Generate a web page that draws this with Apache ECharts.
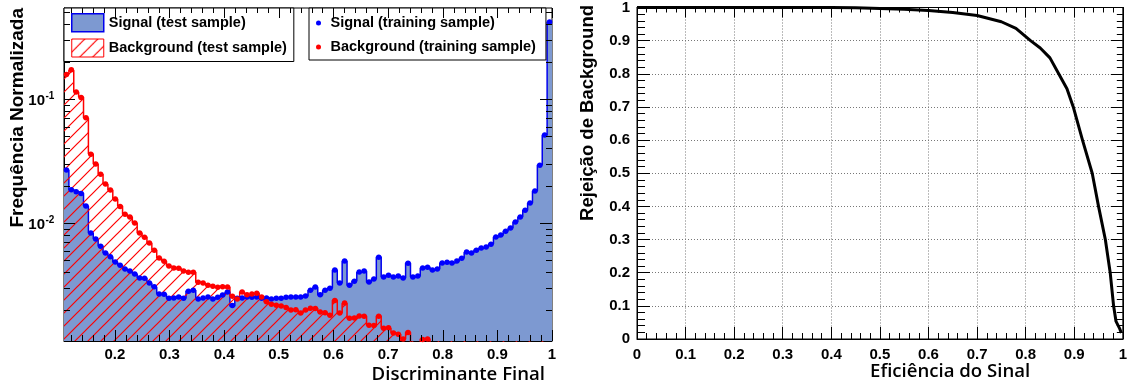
<!DOCTYPE html>
<html>
<head>
<meta charset="utf-8">
<script src="https://cdn.jsdelivr.net/npm/echarts@6/dist/echarts.min.js"></script>
<style>
  html, body { margin: 0; padding: 0; background: #fff; }
  #chart { width: 1130px; height: 385px; }
</style>
</head>
<body>
<div id="chart"></div>
<script>
// Discriminant output: 100 equal-width bins between these edges
const discMin = 0.107;
const discMax = 1.0;

// Normalised frequency per bin, test sample
const signalTest = [
  0.0268, 0.0185, 0.0179, 0.0174, 0.0137, 0.00831, 0.00743, 0.00652, 0.00573, 0.00535,
  0.00485, 0.00458, 0.00426, 0.00410, 0.00388, 0.00360, 0.00360, 0.00328, 0.00305, 0.00268,
  0.00268, 0.00248, 0.00248, 0.00254, 0.00248, 0.00283, 0.00288, 0.00244, 0.00248, 0.00253,
  0.00244, 0.00253, 0.00263, 0.00278, 0.00214, 0.00248, 0.00248, 0.00253, 0.00253, 0.00253,
  0.00248, 0.00248, 0.00244, 0.00248, 0.00248, 0.00253, 0.00253, 0.00253, 0.00253, 0.00258,
  0.00288, 0.00305, 0.00263, 0.00288, 0.00299, 0.00418, 0.00328, 0.00494, 0.00316, 0.00341,
  0.00402, 0.00410, 0.00334, 0.00354, 0.00532, 0.00367, 0.00381, 0.00367, 0.00374, 0.00360,
  0.00476, 0.00367, 0.00374, 0.00434, 0.00442, 0.00418, 0.00426, 0.00476, 0.00485, 0.00476,
  0.00494, 0.00522, 0.00583, 0.00573, 0.00606, 0.00629, 0.00641, 0.00677, 0.00771, 0.00800,
  0.00862, 0.00911, 0.0102, 0.0112, 0.0127, 0.0145, 0.0181, 0.0294, 0.0513, 0.418
];
const backgroundTest = [
  0.159, 0.171, 0.114, 0.104, 0.0703, 0.0360, 0.0299, 0.0248, 0.0206, 0.0185,
  0.0156, 0.0137, 0.0118, 0.0112, 0.0100, 0.00831, 0.00771, 0.00690, 0.00606, 0.00522,
  0.00494, 0.00450, 0.00434, 0.00434, 0.00410, 0.00402, 0.00402, 0.00334, 0.00328, 0.00316,
  0.00310, 0.00305, 0.00305, 0.00305, 0.00258, 0.00244, 0.00278, 0.00263, 0.00268, 0.00273,
  0.00253, 0.00231, 0.00222, 0.00218, 0.00214, 0.00210, 0.00199, 0.00199, 0.00188, 0.00199,
  0.00206, 0.00206, 0.00192, 0.00188, 0.00181, 0.00239, 0.00188, 0.00226, 0.00171, 0.00171,
  0.00178, 0.00178, 0.00150, 0.00148, 0.00178, 0.00142, 0.00142, 0.00130, 0.00127, 0.00116,
  0.00132, 0.00095, 0.00090, 0.00116, 0.00116, 0.00088, 0.00080, 0.00074, 0.00066, 0.00060,
  0.00052, 0.00047, 0.00041, 0.00036, 0.00031, 0.00027, 0.00023, 0.00020, 0.00017, 0.00014,
  0.00012, 0.00010, 0.00008, 0.00007, 0.00006, 0.00005, 0.00004, 0.00003, 0.00002, 0.00001
];

// Normalised frequency per bin, training sample
const signalTrain = [
  0.0268, 0.0186, 0.0179, 0.0173, 0.0137, 0.00830, 0.00745, 0.00650, 0.00574, 0.00535,
  0.00486, 0.00457, 0.00427, 0.00410, 0.00389, 0.00360, 0.00359, 0.00328, 0.00306, 0.00268,
  0.00267, 0.00248, 0.00249, 0.00254, 0.00248, 0.00282, 0.00288, 0.00244, 0.00249, 0.00253,
  0.00244, 0.00252, 0.00263, 0.00278, 0.00216, 0.00248, 0.00249, 0.00253, 0.00252, 0.00253,
  0.00248, 0.00249, 0.00244, 0.00248, 0.00248, 0.00252, 0.00253, 0.00254, 0.00253, 0.00258,
  0.00287, 0.00305, 0.00264, 0.00288, 0.00298, 0.00418, 0.00329, 0.00494, 0.00316, 0.00340,
  0.00403, 0.00410, 0.00335, 0.00354, 0.00530, 0.00368, 0.00380, 0.00367, 0.00374, 0.00361,
  0.00475, 0.00367, 0.00375, 0.00434, 0.00441, 0.00418, 0.00427, 0.00476, 0.00484, 0.00477,
  0.00494, 0.00521, 0.00584, 0.00573, 0.00605, 0.00630, 0.00641, 0.00676, 0.00772, 0.00800,
  0.00861, 0.00912, 0.0102, 0.0112, 0.0127, 0.0145, 0.0181, 0.0293, 0.0514, 0.417
];
const backgroundTrain = [
  0.158, 0.172, 0.114, 0.103, 0.0705, 0.0359, 0.0300, 0.0247, 0.0207, 0.0185,
  0.0156, 0.0136, 0.0118, 0.0112, 0.0100, 0.00832, 0.00770, 0.00691, 0.00605, 0.00523,
  0.00493, 0.00451, 0.00434, 0.00433, 0.00411, 0.00402, 0.00401, 0.00334, 0.00329, 0.00316,
  0.00310, 0.00304, 0.00306, 0.00305, 0.00257, 0.00244, 0.00278, 0.00264, 0.00268, 0.00272,
  0.00253, 0.00232, 0.00222, 0.00218, 0.00214, 0.00209, 0.00199, 0.00200, 0.00188, 0.00199,
  0.00206, 0.00205, 0.00192, 0.00189, 0.00181, 0.00238, 0.00188, 0.00227, 0.00171, 0.00172,
  0.00178, 0.00177, 0.00150, 0.00149, 0.00177, 0.00142, 0.00143, 0.00130, 0.00127, 0.00116,
  0.00131, 0.00095, 0.00090, 0.00115, 0.00116, 0.00088, 0.00080, 0.00074, 0.00066, 0.00060,
  0.00052, 0.00047, 0.00041, 0.00036, 0.00031, 0.00027, 0.00023, 0.00020, 0.00017, 0.00014,
  0.00012, 0.00010, 0.00008, 0.00007, 0.00006, 0.00005, 0.00004, 0.00003, 0.00002, 0.00001
];

// Vertical range of the log axis
const freqMin = 0.00112;
const freqMax = 0.542;

// ROC curve: signal efficiency vs background rejection
const rocEff = [0, 0.1, 0.2, 0.3, 0.4, 0.45, 0.5, 0.55, 0.6, 0.65, 0.7, 0.75, 0.78, 0.81,
  0.83, 0.85, 0.868, 0.885, 0.898, 0.917, 0.937, 0.95, 0.964, 0.974, 0.981, 0.986, 0.993, 0.997];
const rocRej = [1, 1, 1, 1, 1, 0.999, 0.997, 0.995, 0.991, 0.985, 0.976, 0.957, 0.937, 0.900,
  0.878, 0.848, 0.800, 0.755, 0.700, 0.600, 0.500, 0.400, 0.300, 0.200, 0.100, 0.053, 0.033, 0.018];

const FONT = 'Liberation Sans, Arial, sans-serif';
const TITLE_FONT = '"Open Sans", sans-serif';
const SIG_FILL = '#7d99d1';
const SIG_LINE = '#0000ee';
const BKG_LINE = '#ff0000';

// hatch fill for the background histogram ("/" lines)
function makeHatch() {
  const c = document.createElement('canvas');
  const s = 13;
  c.width = s; c.height = s;
  const g = c.getContext('2d');
  g.clearRect(0, 0, s, s);
  g.strokeStyle = 'rgb(255,0,0)';
  g.lineWidth = 1.2;
  g.beginPath();
  g.moveTo(-2, s + 2); g.lineTo(s + 2, -2);
  g.moveTo(-2, 2); g.lineTo(2, -2);
  g.moveTo(s - 2, s + 2); g.lineTo(s + 2, s - 2);
  g.stroke();
  return c;
}
const hatch = { image: makeHatch(), repeat: 'repeat' };

const nBins = signalTest.length;
const binW = (discMax - discMin) / nBins;
function stepData(vals) {
  const out = vals.map((v, i) => [discMin + i * binW, v]);
  out.push([discMax, vals[vals.length - 1]]);
  return out;
}
function centreData(vals) {
  return vals.map((v, i) => [discMin + (i + 0.5) * binW, v]);
}

// frame ticks of the histogram panel (ROOT style, on all four sides)
const xMajor = [0.2, 0.3, 0.4, 0.5, 0.6, 0.7, 0.8, 0.9, 1.0];
const xMinor = [];
for (let k = 6; k < 50; k++) { const v = k * 0.02; if (k % 5 !== 0 && v > discMin) xMinor.push(v); }
const yMajor = [0.01, 0.1];
const yMinor = [];
[0.001, 0.01, 0.1].forEach(d => { for (let m = 2; m <= 9; m++) { const v = m * d; if (v > freqMin && v < freqMax) yMinor.push(v); } });

function histFrame(params, api) {
  const kids = [];
  const seg = (x1, y1, x2, y2) => kids.push({ type: 'line', shape: { x1, y1, x2, y2 }, style: { stroke: '#000', lineWidth: 1 } });
  const put = (v, major) => {
    const b = api.coord([v, freqMin]), t = api.coord([v, freqMax]);
    const x = Math.round(b[0]) + 0.5;
    seg(x, b[1], x, b[1] - (major ? 11 : 6));
    seg(x, t[1], x, t[1] + (major ? 10 : 5));
  };
  xMajor.forEach(v => put(v, true));
  xMinor.forEach(v => put(v, false));
  const putY = (v, major) => {
    const l = api.coord([discMin, v]), r = api.coord([discMax, v]);
    const y = Math.round(l[1]) + 0.5;
    seg(l[0], y, l[0] + (major ? 11 : 6), y);
    seg(r[0], y, r[0] - (major ? 12 : 6), y);
  };
  yMajor.forEach(v => putY(v, true));
  yMinor.forEach(v => putY(v, false));
  // decade labels 10^-1, 10^-2
  [[0.1, '-1'], [0.01, '-2']].forEach(([v, e]) => {
    const p = api.coord([discMin, v]);
    kids.push({ type: 'text', x: p[0] - 19, y: p[1] + 2,
      style: { text: '10', font: 'bold 15px ' + FONT, fill: '#000', align: 'right', verticalAlign: 'middle', textAlign: 'right', textVerticalAlign: 'middle' } });
    kids.push({ type: 'text', x: p[0] - 18.5, y: p[1] - 3,
      style: { text: e, font: 'bold 10px ' + FONT, fill: '#000', align: 'left', verticalAlign: 'middle', textAlign: 'left', textVerticalAlign: 'middle' } });
  });
  return { type: 'group', children: kids };
}

const labelStyle = { fontFamily: FONT, fontWeight: 'bold', fontSize: 15, color: '#000' };
const legendText = { fontFamily: FONT, fontWeight: 'bold', fontSize: 14.5, lineHeight: 18, color: '#000' };

const chart = echarts.init(document.getElementById('chart'), null, { renderer: 'canvas' });
chart.setOption({
  animation: false,
  backgroundColor: '#fff',
  grid: [
    { left: 64, top: 8, width: 488, height: 333, show: true, borderColor: '#000', borderWidth: 1, backgroundColor: 'transparent' },
    { left: 637, top: 7, width: 489, height: 332, show: true, borderColor: '#000', borderWidth: 1, backgroundColor: 'transparent' }
  ],
  xAxis: [
    { type: 'value', gridIndex: 0, min: discMin, max: discMax, splitNumber: 9,
      axisLine: { show: true, lineStyle: { color: '#000' } }, axisTick: { show: false },
      splitLine: { show: false },
      axisLabel: Object.assign({ margin: 6, showMinLabel: false }, labelStyle) },
    { type: 'value', gridIndex: 1, min: 0, max: 1, interval: 0.1,
      axisLine: { show: true, onZero: false, lineStyle: { color: '#000' } },
      axisTick: { show: true, inside: true, length: 12, lineStyle: { color: '#000' } },
      minorTick: { show: true, splitNumber: 5, length: 6, lineStyle: { color: '#000' } },
      splitLine: { show: true, lineStyle: { color: '#777', type: [1, 2], width: 1 } },
      axisLabel: Object.assign({ margin: 8 }, labelStyle) },
    { type: 'value', gridIndex: 1, position: 'top', min: 0, max: 1, interval: 0.1,
      axisLine: { show: true, onZero: false, lineStyle: { color: '#000' } },
      axisTick: { show: true, inside: true, length: 10, lineStyle: { color: '#000' } },
      minorTick: { show: true, splitNumber: 5, length: 5, lineStyle: { color: '#000' } },
      splitLine: { show: false }, axisLabel: { show: false } }
  ],
  yAxis: [
    { type: 'log', gridIndex: 0, min: freqMin, max: freqMax, logBase: 10,
      axisLine: { show: true, lineStyle: { color: '#000' } }, axisTick: { show: false },
      splitLine: { show: false }, axisLabel: { show: false } },
    { type: 'value', gridIndex: 1, min: 0, max: 1, interval: 0.1,
      axisLine: { show: true, onZero: false, lineStyle: { color: '#000' } },
      axisTick: { show: true, inside: true, length: 13, lineStyle: { color: '#000' } },
      minorTick: { show: true, splitNumber: 5, length: 8, lineStyle: { color: '#000' } },
      splitLine: { show: true, lineStyle: { color: '#777', type: [1, 2], width: 1 } },
      axisLabel: Object.assign({ margin: 7 }, labelStyle) },
    { type: 'value', gridIndex: 1, position: 'right', min: 0, max: 1, interval: 0.1,
      axisLine: { show: true, onZero: false, lineStyle: { color: '#000' } },
      axisTick: { show: true, inside: true, length: 12, lineStyle: { color: '#000' } },
      minorTick: { show: true, splitNumber: 5, length: 6, lineStyle: { color: '#000' } },
      splitLine: { show: false }, axisLabel: { show: false } }
  ],
  legend: [
    { left: 64, top: 8, orient: 'vertical', selectedMode: false,
      padding: [5, 7, 4, 7], itemGap: 6, itemWidth: 32, itemHeight: 18,
      borderColor: '#000', borderWidth: 1, borderRadius: 0, backgroundColor: '#fff',
      textStyle: legendText,
      data: [
        { name: 'Signal (test sample)', icon: 'rect', itemStyle: { color: SIG_FILL, borderColor: SIG_LINE, borderWidth: 1.5 } },
        { name: 'Background (test sample)', icon: 'rect', itemStyle: { color: hatch, borderColor: BKG_LINE, borderWidth: 1 } }
      ] },
    { left: 309, top: 8, orient: 'vertical', selectedMode: false,
      padding: [6, 10, 4, 7], itemGap: 6, itemWidth: 14, itemHeight: 5,
      borderColor: '#000', borderWidth: 1, borderRadius: 0, backgroundColor: '#fff',
      textStyle: legendText,
      data: [
        { name: 'Signal (training sample)', icon: 'circle', itemStyle: { color: '#0000ff' } },
        { name: 'Background (training sample)', icon: 'circle', itemStyle: { color: '#ff0000' } }
      ] }
  ],
  graphic: [
    { type: 'text', x: 18, y: 8, rotation: Math.PI / 2,
      style: { text: 'Frequência Normalizada', font: 'bold 19px ' + FONT, fill: '#000', align: 'right', verticalAlign: 'middle', textAlign: 'right', textVerticalAlign: 'middle' } },
    { type: 'text', x: 588, y: 5, rotation: Math.PI / 2,
      style: { text: 'Rejeição de Background', font: 'bold 18.5px ' + FONT, fill: '#000', align: 'right', verticalAlign: 'middle', textAlign: 'right', textVerticalAlign: 'middle' } },
    { type: 'text', x: 545, y: 375,
      style: { text: 'Discriminante Final', font: '600 18.6px ' + TITLE_FONT, fill: '#000', align: 'right', verticalAlign: 'middle', textAlign: 'right', textVerticalAlign: 'middle' } },
    { type: 'text', x: 870, y: 372,
      style: { text: 'Eficiência do Sinal', font: '600 18.6px ' + TITLE_FONT, fill: '#000', align: 'left', verticalAlign: 'middle', textAlign: 'left', textVerticalAlign: 'middle' } }
  ],
  series: [
    { name: 'Signal (test sample)', type: 'line', xAxisIndex: 0, yAxisIndex: 0,
      data: stepData(signalTest), step: 'end', showSymbol: false, symbol: 'none',
      lineStyle: { color: SIG_LINE, width: 1.5 }, itemStyle: { color: SIG_FILL },
      areaStyle: { color: SIG_FILL, opacity: 1, origin: 'start' }, z: 2, silent: true },
    { name: 'Background (test sample)', type: 'line', xAxisIndex: 0, yAxisIndex: 0,
      data: stepData(backgroundTest), step: 'end', showSymbol: false, symbol: 'none',
      lineStyle: { color: BKG_LINE, width: 1.5 }, itemStyle: { color: BKG_LINE },
      areaStyle: { color: hatch, opacity: 1, origin: 'start' }, z: 3, silent: true },
    { name: 'Signal (training sample)', type: 'scatter', xAxisIndex: 0, yAxisIndex: 0,
      data: centreData(signalTrain), symbol: 'circle', symbolSize: 5.5, clip: true,
      itemStyle: { color: '#0000ff', opacity: 1 }, z: 4, silent: true },
    { name: 'Background (training sample)', type: 'scatter', xAxisIndex: 0, yAxisIndex: 0,
      data: centreData(backgroundTrain), symbol: 'circle', symbolSize: 5.5, clip: true,
      itemStyle: { color: '#ff0000', opacity: 1 }, z: 4, silent: true },
    { name: 'frame', type: 'custom', xAxisIndex: 0, yAxisIndex: 0, coordinateSystem: 'cartesian2d',
      data: [[0.5, 0.01]], renderItem: histFrame, z: 10, silent: true, clip: false },
    { name: 'ROC', type: 'line', xAxisIndex: 1, yAxisIndex: 1,
      data: rocEff.map((e, i) => [e, rocRej[i]]), showSymbol: false, symbol: 'none',
      lineStyle: { color: '#000', width: 3, join: 'round' }, clip: false, z: 5, silent: true }
  ]
});
</script>
</body>
</html>
